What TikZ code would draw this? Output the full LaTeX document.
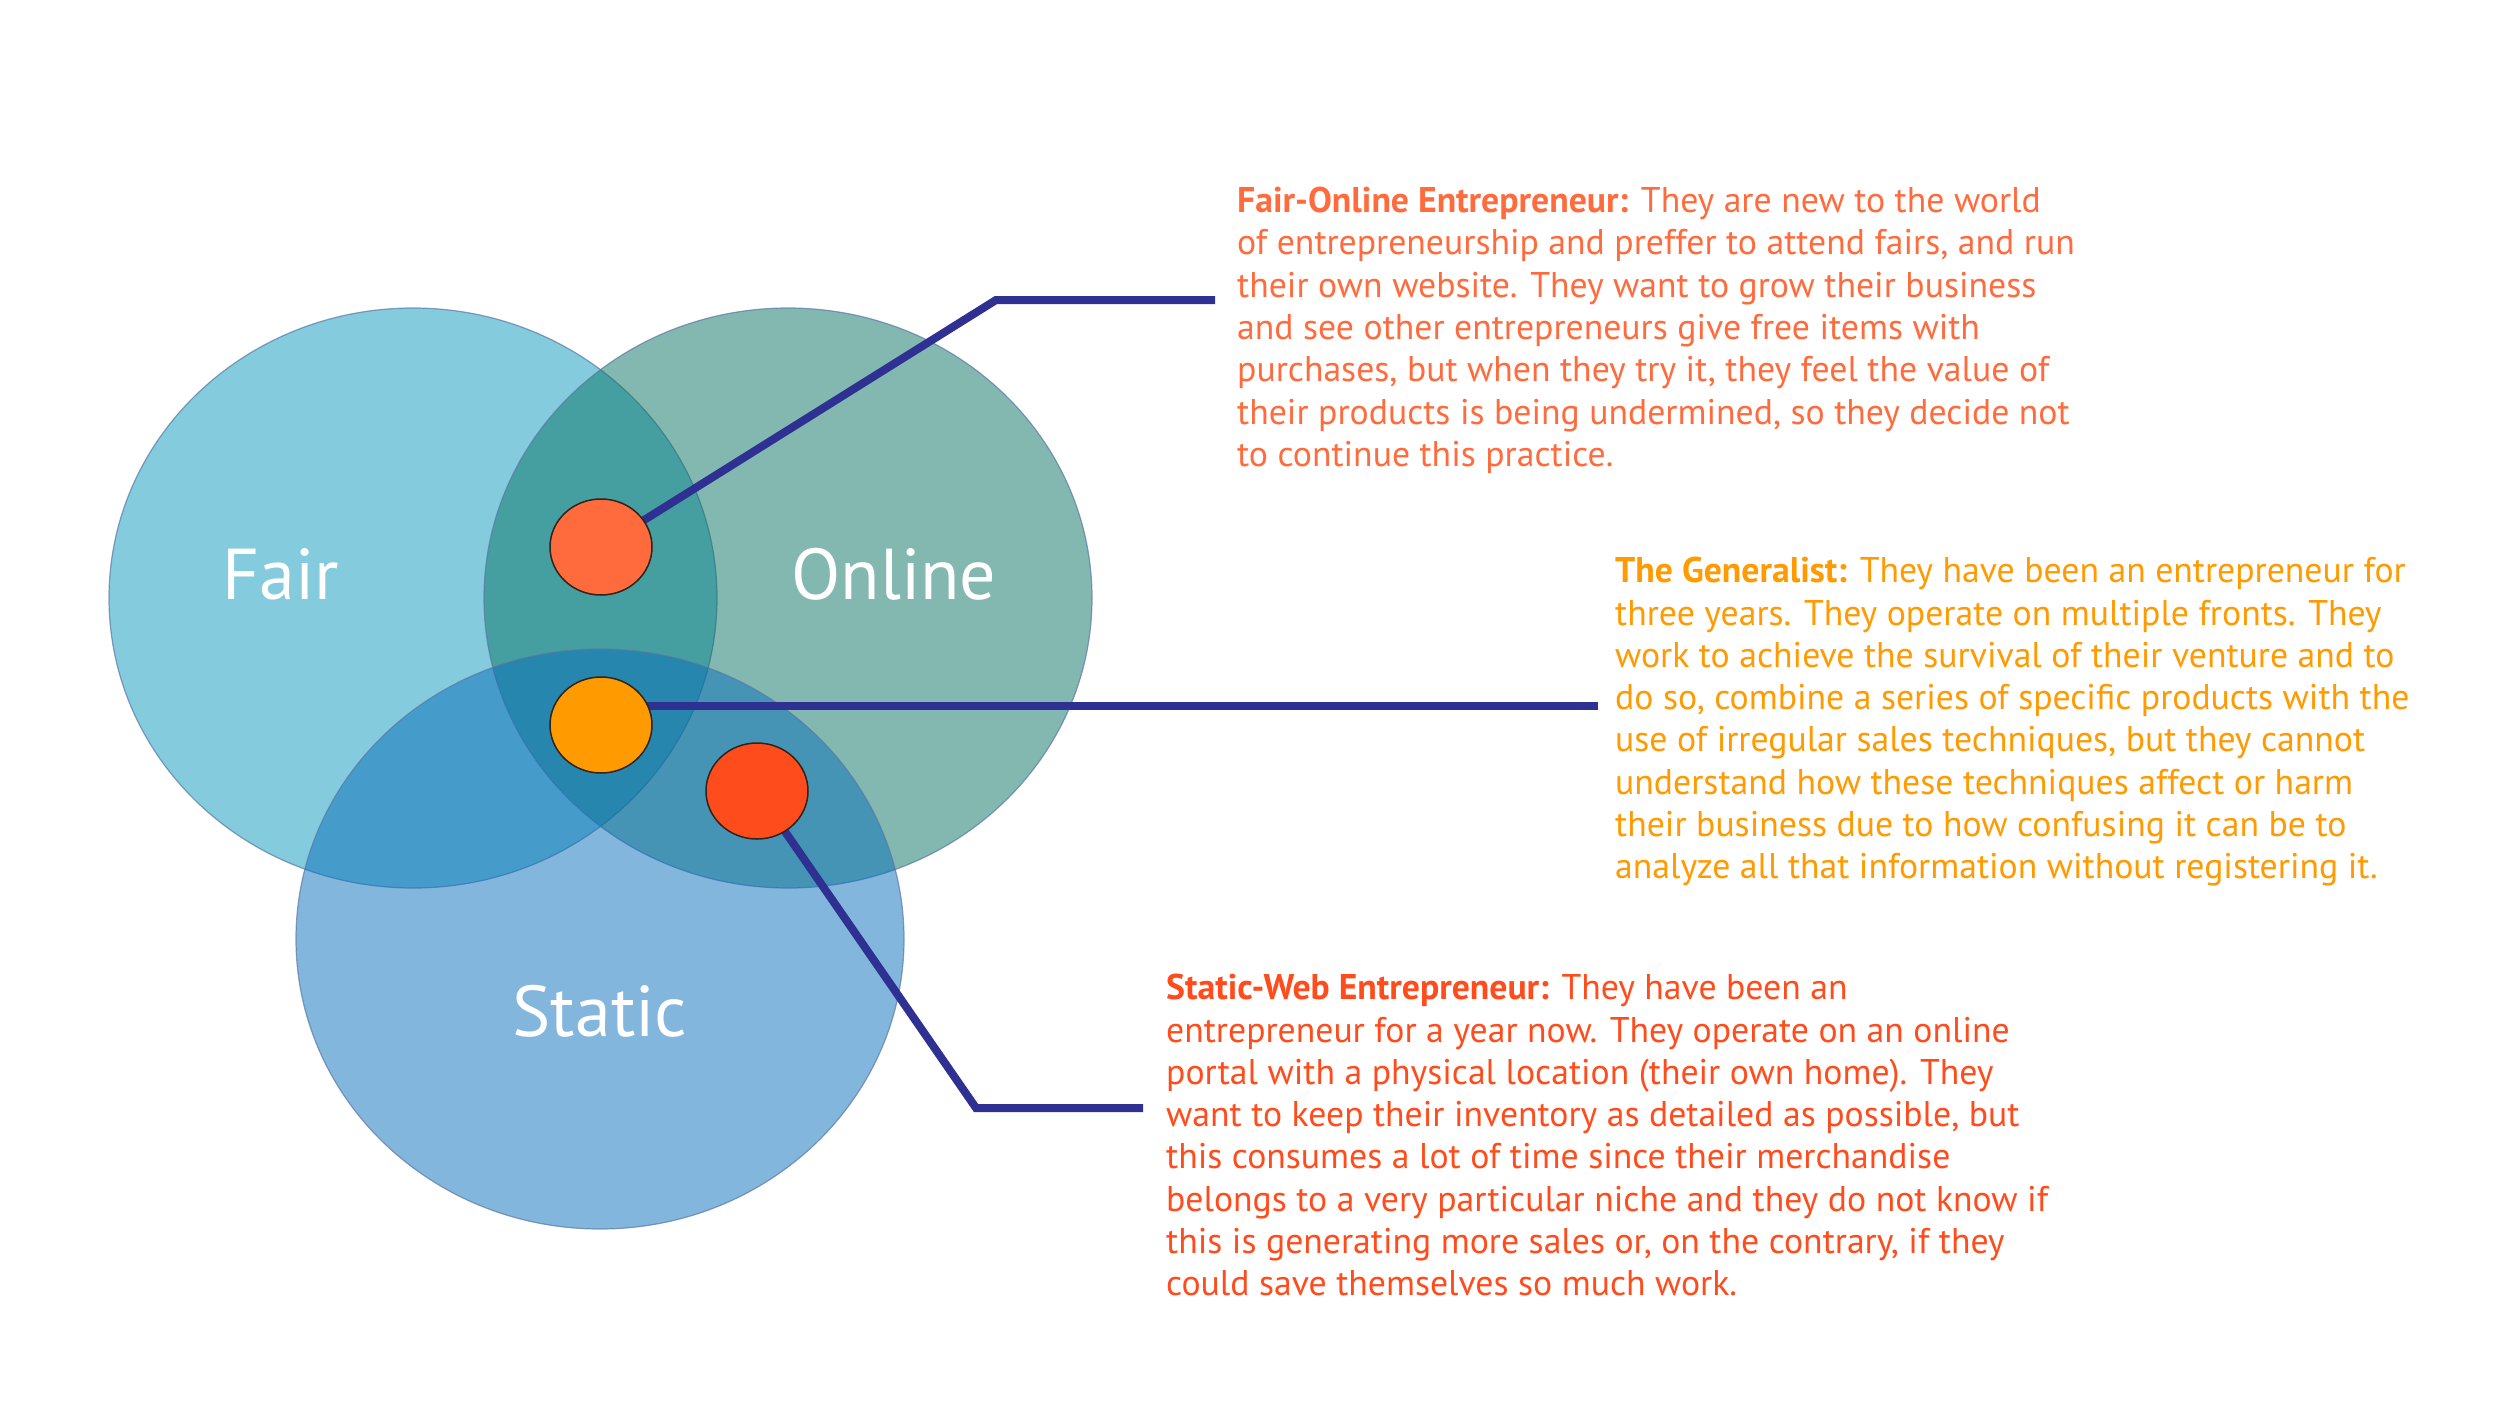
\documentclass[tikz,border=0pt]{standalone}
\usepackage{fontspec}
\setmainfont{PT Sans}
\usetikzlibrary{shapes.geometric}
\definecolor{cfair}{RGB}{9,153,189}
\definecolor{conline}{RGB}{9,115,99}
\definecolor{cstatic}{RGB}{9,111,187}
\definecolor{cedge}{RGB}{90,120,165}
\definecolor{cline}{RGB}{46,49,146}
\definecolor{tone}{RGB}{255,107,61}
\definecolor{ttwo}{RGB}{255,154,0}
\definecolor{tthree}{RGB}{255,76,28}
\definecolor{dotedge}{RGB}{50,35,25}
\tikzset{
  venn/.style={ellipse, draw=cedge, line width=1.2pt, draw opacity=0.7, fill opacity=0.5, minimum width=608pt, minimum height=580pt, inner sep=0pt},
  biglabel/.style={text=white, font=\fontsize{72}{80}\selectfont, inner sep=0pt},
  dotnode/.style={ellipse, draw=dotedge, line width=1.5pt, minimum width=102pt, minimum height=96pt, inner sep=0pt},
  connector/.style={draw=cline, line width=8pt},
  desc/.style={align=left, anchor=north west, inner sep=0pt, font=\fontsize{35.7}{42.3}\selectfont}
}
\begin{document}
\begin{tikzpicture}[x=1pt,y=-1pt]
\useasboundingbox (0,0) rectangle (2500,1406);
\fill[white] (0,0) rectangle (2500,1406);
% Venn circles
\node[venn, fill=cfair] (fair) at (413,598) {};
\node[venn, fill=conline] (online) at (788,598) {};
\node[venn, fill=cstatic] (static) at (600,939) {};
% labels
\node[biglabel] (lfair) at (281,574) {Fair};
\node[biglabel] (lonline) at (894,574) {Online};
\node[biglabel] (lstatic) at (600,1011) {Static};
% connector coordinates
\coordinate (k1) at (996,300);
\coordinate (e1) at (1215,300);
\coordinate (e2) at (1598,0);
\coordinate (k3) at (976,1108);
\coordinate (e3) at (1143,1108);
% connectors
\draw[connector] (601,547) -- (k1) -- (e1);
\draw[connector] (601,706) -- (601,706 -| e2);
\draw[connector] (757,791) -- (k3) -- (e3);
% dots
\node[dotnode, fill=tone] (d1) at (601,547) {};
\node[dotnode, fill=ttwo] (d2) at (601,725) {};
\node[dotnode, fill=tthree] (d3) at (757,791) {};
% descriptions
\node[desc, text=tone] (t1) at (1237,187) {\textbf{Fair-Online Entrepreneur:} They are new to the world\\
of entrepreneurship and preffer to attend fairs, and run\\
their own website. They want to grow their business\\
and see other entrepreneurs give free items with\\
purchases, but when they try it, they feel the value of\\
their products is being undermined, so they decide not\\
to continue this practice.};
\node[desc, text=ttwo] (t2) at (1615,557) {\textbf{The Generalist:} They have been an entrepreneur for\\
three years. They operate on multiple fronts. They\\
work to achieve the survival of their venture and to\\
do so, combine a series of specific products with the\\
use of irregular sales techniques, but they cannot\\
understand how these techniques affect or harm\\
their business due to how confusing it can be to\\
analyze all that information without registering it.};
\node[desc, text=tthree] (t3) at (1166,974) {\textbf{Static-Web Entrepreneur:} They have been an\\
entrepreneur for a year now. They operate on an online\\
portal with a physical location (their own home). They\\
want to keep their inventory as detailed as possible, but\\
this consumes a lot of time since their merchandise\\
belongs to a very particular niche and they do not know if\\
this is generating more sales or, on the contrary, if they\\
could save themselves so much work.};
\end{tikzpicture}
\end{document}
